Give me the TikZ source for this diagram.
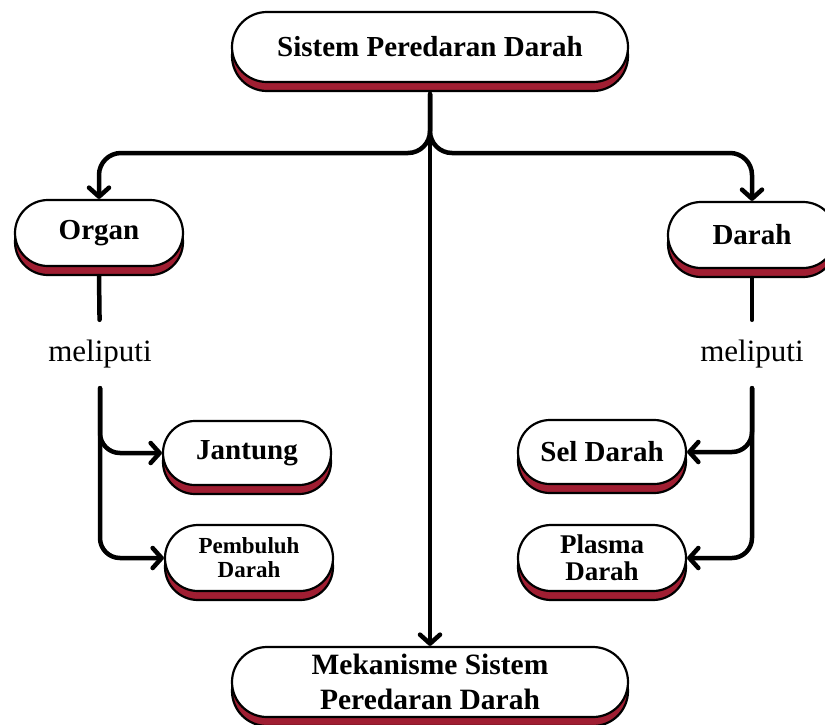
\documentclass[tikz,border=0pt]{standalone}
\usepackage{fontspec}
\setmainfont{Liberation Serif}
\usetikzlibrary{shapes.misc,shapes.geometric,shadows,arrows.meta}
\definecolor{shadowred}{RGB}{160,30,50}
\begin{document}
\begin{tikzpicture}[x=1pt,y=-1pt,
  pill/.style={rounded rectangle, draw=black, line width=2.2pt, fill=white,
    font=\bfseries\fontsize{29}{35}\selectfont, align=center,
    minimum height=66pt, minimum width=168pt, inner sep=0pt,
    general shadow={shadow yshift=-9pt, fill=shadowred, draw=black, line width=2.2pt}},
  wide/.style={minimum width=396pt, minimum height=70pt},
  melip/.style={ellipse, fill=white, minimum width=150pt, minimum height=68pt,
    inner sep=0pt, font=\fontsize{31}{33}\selectfont},
  link/.style={line width=4.5pt, line cap=round},
  conn/.style={link, -{Straight Barb[length=9pt,width=20pt,round]}},
]
\useasboundingbox (0,0) rectangle (825,724);
\fill[white] (0,0) rectangle (825,724);

\node[pill, wide] (top) at (430,47) {Sistem Peredaran Darah};
\node[pill] (organ) at (99,233) {Organ};
\node[pill] (darah) at (752,235) {Darah};
\node[pill, minimum height=64pt] (jantung) at (247,453) {Jantung};
\node[pill, font=\bfseries\fontsize{23}{24}\selectfont] (pemb) at (249,558) {Pembuluh\\Darah};
\node[pill, minimum height=64pt] (sel) at (602,452) {Sel Darah};
\node[pill, font=\bfseries\fontsize{27}{27}\selectfont] (plasma) at (602,558) {Plasma\\Darah};
\node[pill, wide, font=\bfseries\fontsize{29.5}{35}\selectfont] (bot) at (430,682) {Mekanisme Sistem\\Peredaran Darah};

\node[melip] (m1) at (100,354) {meliputi};
\node[melip] (m2) at (752,354) {meliputi};

\coordinate (hub) at (430,153);

\draw[conn] ([yshift=-11pt]top.south) -- (bot.north);
\draw[conn, rounded corners=22pt] ([yshift=-11pt]top.south) -- (hub) -| (organ.north);
\draw[conn, rounded corners=22pt] ([yshift=-11pt]top.south) -- (hub) -| (darah.north);

\draw[link] ([yshift=-9pt]organ.south) -- (m1);
\draw[conn, rounded corners=20pt] (m1) |- (jantung.west);
\draw[conn, rounded corners=20pt] (m1) |- (pemb.west);

\draw[link] ([yshift=-9pt]darah.south) -- (m2);
\draw[conn, rounded corners=20pt] (m2) |- (sel.east);
\draw[conn, rounded corners=20pt] (m2) |- (plasma.east);
\end{tikzpicture}
\end{document}
